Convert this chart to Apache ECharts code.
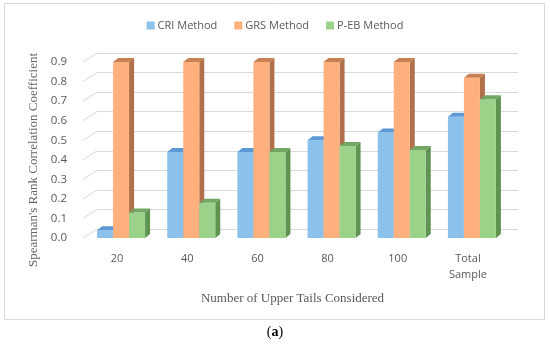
<!DOCTYPE html>
<html><head><meta charset="utf-8">
<script src="https://cdn.jsdelivr.net/npm/echarts@6/dist/echarts.min.js"></script>
<style>html,body{margin:0;padding:0;background:#fff}#c{width:550px;height:346px}</style>
</head><body><div id="c"></div>
<script>
var categories = ['20', '40', '60', '80', '100', 'Total\nSample'];
var criValues = [0.04, 0.44, 0.44, 0.50, 0.54, 0.62];
var grsValues = [0.90, 0.90, 0.90, 0.90, 0.90, 0.82];
var pebValues = [0.13, 0.18, 0.44, 0.47, 0.45, 0.71];
var yTicks = [0, 0.1, 0.2, 0.3, 0.4, 0.5, 0.6, 0.7, 0.8, 0.9];

var chart = echarts.init(document.getElementById('c'));
var palette = [
  {front: '#8CC1EB', top: '#5E99D6', side: '#4F86C2'},
  {front: '#FFB07D', top: '#C97F54', side: '#B0704A'},
  {front: '#9BD28A', top: '#72A863', side: '#5E9352'}
];
var DX = 5, DY = -4;

function barRender(idx) {
  return function (params, api) {
    var cat = api.value(0), v = api.value(1);
    var top = api.coord([cat, v]);
    var base = api.coord([cat, 0]);
    var band = api.size([1, 0])[0];
    var w = band * 0.228;
    var x0 = top[0] + 4 + (idx - 1.5) * w;
    var x1 = x0 + w;
    var c = palette[idx];
    var h = base[1] - top[1];
    return {
      type: 'group',
      children: [
        {type: 'polygon', shape: {points: [[x1, top[1]], [x1 + DX, top[1] + DY], [x1 + DX, base[1] + DY], [x1, base[1]]]},
         style: {fill: c.side}},
        {type: 'rect', shape: {x: x0, y: top[1], width: w, height: h}, style: {fill: c.front}},
        {type: 'polygon', shape: {points: [[x0, top[1]], [x0 + DX, top[1] + DY], [x1 + DX, top[1] + DY], [x1, top[1]]]},
         style: {fill: c.top}}
      ]
    };
  };
}

function mk(name, vals, idx) {
  return {
    name: name, type: 'custom', xAxisIndex: 0, yAxisIndex: 0,
    itemStyle: {color: palette[idx].front},
    renderItem: barRender(idx),
    data: vals.map(function (v, i) { return [i, v]; }),
    z: 3
  };
}

var option = {
  animation: false,
  backgroundColor: '#fff',
  textStyle: {fontFamily: 'Open Sans'},
  legend: {
    top: 15, left: 'center', itemWidth: 8, itemHeight: 8, itemGap: 17,
    icon: 'rect',
    textStyle: {color: '#595959', fontSize: 11, fontFamily: 'Open Sans', padding: [0, 0, 0, -2]},
    data: ['CRI Method', 'GRS Method', 'P-EB Method']
  },
  grid: [
    {left: 82, right: 47, top: 62, bottom: 108},
    {left: 97, right: 32, top: 53, bottom: 117}
  ],
  xAxis: [
    {type: 'category', gridIndex: 0, data: categories,
     axisLine: {show: false}, axisTick: {show: false},
     axisLabel: {color: '#595959', fontSize: 11, margin: 13, lineHeight: 16, fontFamily: 'Open Sans'},
     name: 'Number of Upper Tails Considered', nameLocation: 'middle', nameGap: 54,
     nameTextStyle: {color: '#595959', fontSize: 13, fontFamily: 'Liberation Serif'}},
    {type: 'category', gridIndex: 1, data: categories, show: false}
  ],
  yAxis: [
    {type: 'value', gridIndex: 0, min: 0, max: 0.9, interval: 0.1,
     splitLine: {show: false}, axisLine: {show: false}, axisTick: {show: false},
     axisLabel: {color: '#595959', fontSize: 11.5, margin: 15, fontFamily: 'Open Sans',
       formatter: function (v) { return v.toFixed(1); }, padding: [5, 0, 0, 0]},
     name: "Spearman's Rank Correlation Coefficient", nameLocation: 'middle', nameGap: 27,
     nameTextStyle: {color: '#666666', fontSize: 13, fontFamily: 'Liberation Serif', padding: [0, 20, 0, 0]}},
    {type: 'value', gridIndex: 1, min: 0, max: 0.9, interval: 0.1,
     splitLine: {show: true, lineStyle: {color: '#D9D9D9', width: 1}},
     axisLine: {show: false}, axisTick: {show: false}, axisLabel: {show: false}}
  ],
  graphic: [
    {type: 'rect', shape: {x: 4.5, y: 3.5, width: 540, height: 316}, style: {fill: 'none', stroke: '#D9D9D9', lineWidth: 1}, z: -10},
    {type: 'text', left: 'center', top: 325,
     style: {text: '({b|a})', rich: {b: {fontWeight: 'bold', fontSize: 14, fontFamily: 'Liberation Serif', fill: '#000'}},
       fontSize: 14, fontFamily: 'Liberation Serif', fill: '#000'}}
  ],
  series: [
    {
      type: 'custom', xAxisIndex: 0, yAxisIndex: 0, silent: true, z: 1,
      data: yTicks.map(function (v) { return [0, v]; }),
      renderItem: function (params, api) {
        var p = api.coord([0, api.value(1)]);
        var band = api.size([1, 0])[0];
        var x = p[0] - band / 2;
        return {type: 'line', shape: {x1: x + 1, y1: p[1], x2: x + 15, y2: p[1] - 9},
          style: {stroke: '#D9D9D9', lineWidth: 1}};
      }
    },
    mk('CRI Method', criValues, 0),
    mk('GRS Method', grsValues, 1),
    mk('P-EB Method', pebValues, 2)
  ]
};
chart.setOption(option);
</script>
</body></html>
